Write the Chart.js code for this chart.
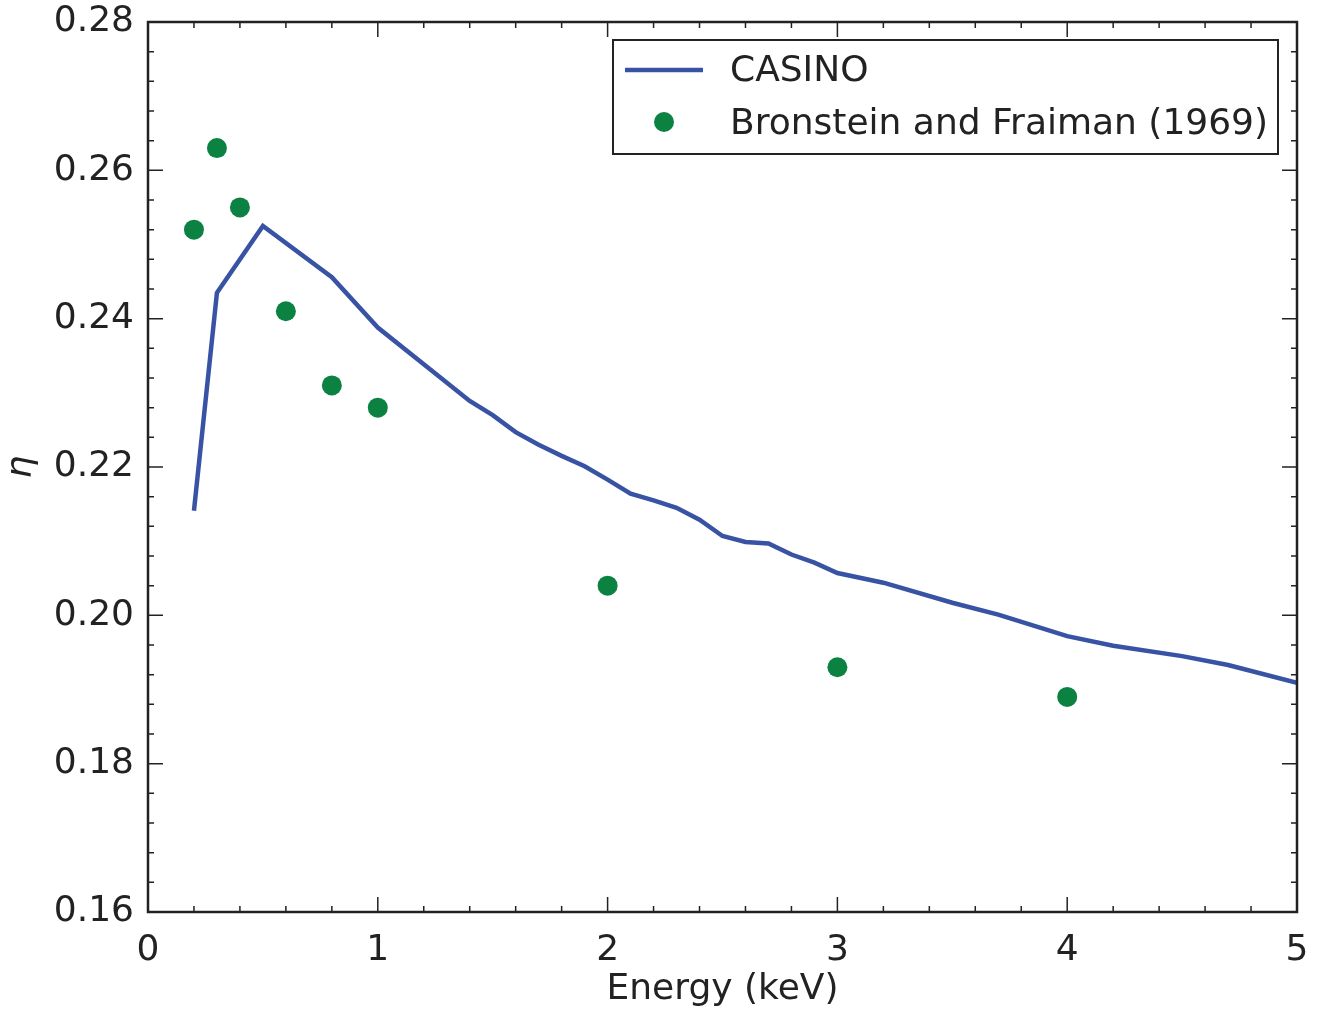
<!DOCTYPE html>
<html>
<head>
<meta charset="utf-8">
<script src="https://cdn.jsdelivr.net/npm/chart.js@4"></script>
<style>
  body { margin: 0; background: #fff; }
  canvas { display: block; }
</style>
</head>
<body>
<canvas id="chart" width="1327" height="1011"></canvas>
<script>
// CASINO simulation curve
const casinoEnergy = [0.2, 0.3, 0.5, 0.8, 1.0, 1.4, 1.5, 1.6, 1.7, 1.8, 1.9, 2.0, 2.1, 2.2, 2.3, 2.4, 2.5, 2.6, 2.7, 2.8, 2.9, 3.0, 3.2, 3.5, 3.7, 4.0, 4.2, 4.5, 4.7, 5.0];
const casinoEta = [0.2141, 0.2435, 0.2525, 0.2456, 0.2388, 0.2289, 0.2270, 0.2247, 0.2230, 0.2215, 0.2201, 0.2183, 0.2164, 0.2155, 0.2145, 0.2129, 0.2107, 0.2099, 0.2097, 0.2082, 0.2071, 0.2057, 0.2044, 0.2017, 0.2001, 0.1972, 0.1959, 0.1945, 0.1933, 0.1909];

// Bronstein and Fraiman (1969) measurements
const expEnergy = [0.2, 0.3, 0.4, 0.6, 0.8, 1.0, 2.0, 3.0, 4.0];
const expEta = [0.252, 0.263, 0.255, 0.241, 0.231, 0.228, 0.204, 0.193, 0.189];

const xTicks = [0, 1, 2, 3, 4, 5];
const yTicks = [0.16, 0.18, 0.20, 0.22, 0.24, 0.26, 0.28];

const lineColor = '#3953a4';
const dotColor = '#0b8241';
const axisColor = '#222';
const fontFamily = '"DejaVu Sans", sans-serif';

// frame, inward ticks on all four sides, and the boxed legend
const framePlugin = {
  id: 'frame',
  afterDraw(chart) {
    const ctx = chart.ctx;
    const a = chart.chartArea;
    const xs = chart.scales.x, ys = chart.scales.y;
    ctx.save();
    ctx.strokeStyle = axisColor;
    ctx.lineWidth = 1.5;
    ctx.beginPath();
    for (let i = 0; i <= 25; i++) {
      const v = i * 0.2;
      const px = xs.getPixelForValue(v);
      const len = i % 5 === 0 ? 15 : 6;
      ctx.moveTo(px, a.bottom); ctx.lineTo(px, a.bottom - len);
      ctx.moveTo(px, a.top); ctx.lineTo(px, a.top + len);
    }
    for (let i = 0; i <= 30; i++) {
      const v = 0.16 + i * 0.004;
      const py = ys.getPixelForValue(v);
      const len = i % 5 === 0 ? 15 : 6;
      ctx.moveTo(a.left, py); ctx.lineTo(a.left + len, py);
      ctx.moveTo(a.right, py); ctx.lineTo(a.right - len, py);
    }
    ctx.stroke();

    ctx.lineWidth = 2.5;
    ctx.strokeRect(a.left, a.top, a.right - a.left, a.bottom - a.top);

    // legend
    const lx = 613, ly = 40, lw = 665, lh = 114;
    ctx.fillStyle = '#fff';
    ctx.fillRect(lx, ly, lw, lh);
    ctx.lineWidth = 2;
    ctx.strokeStyle = axisColor;
    ctx.strokeRect(lx, ly, lw, lh);

    ctx.strokeStyle = lineColor;
    ctx.lineWidth = 4.5;
    ctx.beginPath();
    ctx.moveTo(625, 70); ctx.lineTo(703, 70);
    ctx.stroke();

    ctx.fillStyle = dotColor;
    ctx.beginPath();
    ctx.arc(664, 122, 10, 0, Math.PI * 2);
    ctx.fill();

    ctx.fillStyle = axisColor;
    ctx.font = '36px ' + fontFamily;
    ctx.textBaseline = 'middle';
    ctx.textAlign = 'left';
    ctx.fillText(chart.data.datasets[0].label, 730, 72);
    ctx.fillText(chart.data.datasets[1].label, 730, 125);
    ctx.restore();
  }
};

new Chart(document.getElementById('chart'), {
  type: 'scatter',
  data: {
    datasets: [
      {
        label: 'CASINO',
        data: casinoEnergy.map((x, i) => ({ x: x, y: casinoEta[i] })),
        showLine: true,
        borderColor: lineColor,
        borderWidth: 4.5,
        pointRadius: 0,
        fill: false,
        tension: 0
      },
      {
        label: 'Bronstein and Fraiman (1969)',
        data: expEnergy.map((x, i) => ({ x: x, y: expEta[i] })),
        backgroundColor: dotColor,
        borderColor: dotColor,
        pointRadius: 10,
        pointBorderWidth: 0
      }
    ]
  },
  options: {
    responsive: false,
    animation: false,
    layout: { padding: { top: 22, right: 30, left: 0, bottom: 0 } },
    plugins: {
      legend: { display: false },
      tooltip: { enabled: false }
    },
    scales: {
      x: {
        type: 'linear',
        min: 0,
        max: 5,
        afterBuildTicks: s => { s.ticks = xTicks.map(v => ({ value: v })); },
        afterFit: s => { s.height = 99; s.paddingLeft = 0; s.paddingRight = 0; },
        grid: { display: false, drawTicks: false },
        border: { display: false },
        ticks: {
          color: axisColor,
          font: { family: fontFamily, size: 36 },
          padding: 17,
          maxRotation: 0
        },
        title: {
          display: true,
          text: 'Energy (keV)',
          color: axisColor,
          font: { family: fontFamily, size: 36 },
          padding: { top: 0, bottom: 0 }
        }
      },
      y: {
        type: 'linear',
        min: 0.16,
        max: 0.28,
        afterBuildTicks: s => { s.ticks = yTicks.map(v => ({ value: v })); },
        afterFit: s => { s.width = 148; s.paddingTop = 0; s.paddingBottom = 0; },
        grid: { display: false, drawTicks: false },
        border: { display: false },
        ticks: {
          color: axisColor,
          font: { family: fontFamily, size: 36 },
          padding: 14,
          callback: v => v.toFixed(2)
        },
        title: {
          display: true,
          text: 'η',
          color: axisColor,
          font: { family: fontFamily, size: 36, style: 'italic' },
          padding: { top: 0, bottom: 0 }
        }
      }
    }
  },
  plugins: [framePlugin]
});
</script>
</body>
</html>
